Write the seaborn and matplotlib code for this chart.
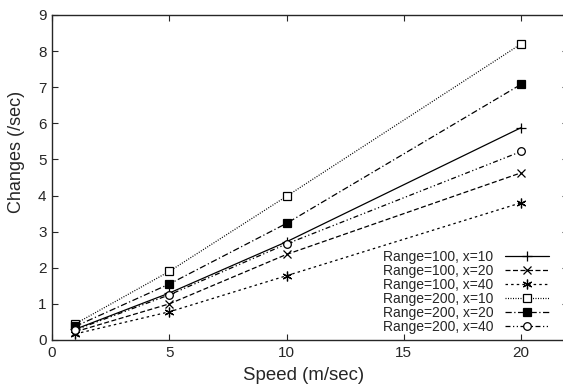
import matplotlib
matplotlib.use("Agg")
import matplotlib.pyplot as plt
import seaborn as sns
import pandas as pd

speed = [1, 5, 10, 20]
labels = ["Range=100, x=10", "Range=100, x=20", "Range=100, x=40",
          "Range=200, x=10", "Range=200, x=20", "Range=200, x=40"]
r100_x10 = [0.30, 1.30, 2.72, 5.88]
r100_x20 = [0.23, 1.00, 2.37, 4.63]
r100_x40 = [0.17, 0.78, 1.78, 3.80]
r200_x10 = [0.45, 1.90, 3.98, 8.20]
r200_x20 = [0.38, 1.55, 3.23, 7.08]
r200_x40 = [0.28, 1.25, 2.66, 5.22]
series = [r100_x10, r100_x20, r100_x40, r200_x10, r200_x20, r200_x40]
xticks = [0, 5, 10, 15, 20]
yticks = list(range(0, 10))

sns.set_style("ticks")
plt.rcParams['font.family'] = ['Liberation Sans', 'DejaVu Sans']

styles = [
    dict(linestyle='-', marker='+', markersize=7, mfc='black'),
    dict(linestyle=(0, (4, 2)), marker='x', markersize=6, mfc='black'),
    dict(linestyle=(0, (2, 2.5)), marker=(6, 2, 0), markersize=7, mfc='black'),
    dict(linestyle=(0, (0.8, 1.2)), marker='s', markersize=5.5, mfc='white'),
    dict(linestyle=(0, (5, 2, 1, 2)), marker='s', markersize=5.5, mfc='black'),
    dict(linestyle=(0, (4, 2, 1, 2, 1, 2)), marker='o', markersize=5.5, mfc='white'),
]

fig = plt.figure(figsize=(5.63, 3.84), dpi=100)
ax = fig.add_axes([0.0924, 0.1146, 1.009 - 0.0924, 0.961 - 0.1146])

for lab, vals, st in zip(labels, series, styles):
    df = pd.DataFrame({"speed": speed, "val": vals})
    sns.lineplot(data=df, x="speed", y="val", ax=ax, color='black', lw=0.9,
                 label=lab, mec='black', mew=0.9, **st)

ax.set_xlim(0, 22)
ax.set_ylim(0, 9)
ax.set_xticks(xticks)
ax.set_yticks(yticks)
ax.tick_params(direction='in', length=4, width=0.8, top=True, right=True,
               labelsize=11, pad=4)
for s in ax.spines.values():
    s.set_linewidth(1.0)
    s.set_visible(True)
ax.set_xlabel("Speed (m/sec)", fontsize=13.4)
ax.set_ylabel("Changes (/sec)", fontsize=13)
ax.xaxis.set_label_coords(0.488, -0.082)
ax.yaxis.set_label_coords(-0.052, 0.578)

leg = ax.legend(loc='lower right', bbox_to_anchor=(0.982, -0.012), frameon=False,
                markerfirst=False, fontsize=10, handlelength=3.2,
                labelspacing=0.0, handletextpad=0.8, borderaxespad=0.3)

fig.savefig("out.png", dpi=100)
